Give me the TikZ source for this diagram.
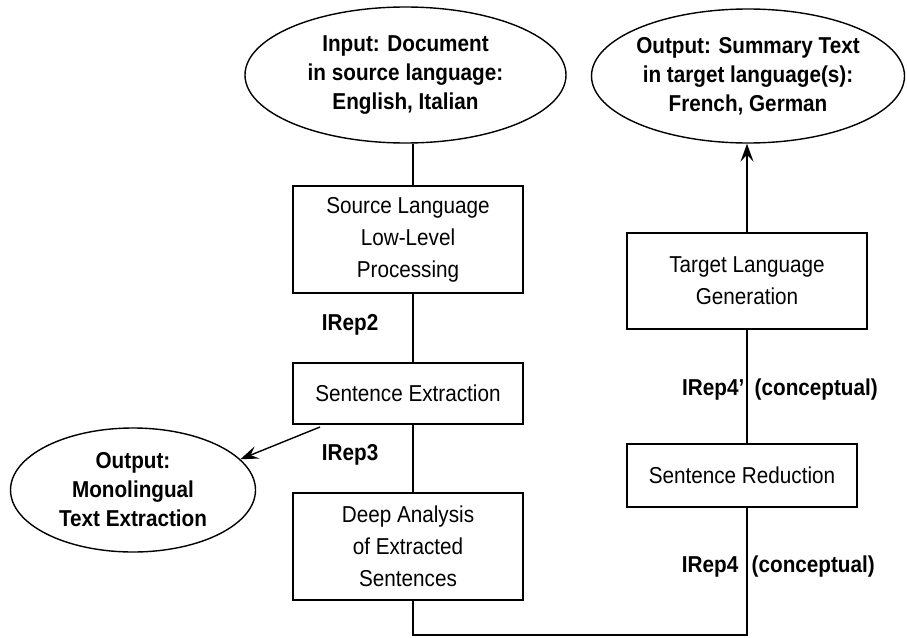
\documentclass[tikz,border=0pt]{standalone}
\usepackage{fontspec}
\setmainfont{Liberation Sans}[FakeStretch=0.9]
\usetikzlibrary{shapes.geometric,arrows.meta}
\begin{document}
\begin{tikzpicture}[x=1pt,y=-1pt, line width=1.4pt,
  txt/.style={font=\fontsize{23}{32}\selectfont, align=center},
  bbox/.style={draw, rectangle, inner sep=0pt, txt},
  oval/.style={draw, ellipse, inner xsep=-12pt, inner ysep=0pt, align=center,
               font=\bfseries\fontsize{23}{29}\selectfont},
  lbl/.style={font=\bfseries\fontsize{23}{28}\selectfont, inner sep=0pt},
  arr/.style={-{Stealth[length=18pt,width=13pt,inset=7pt]}}]
\useasboundingbox (0,0) rectangle (907,637);
\fill[white] (0,0) rectangle (907,637);

% ellipses
\node[oval, minimum width=321pt, minimum height=136pt] (inp) at (405.5,75)
  {Input: Document\\in source language:\\English, Italian};
\node[oval, minimum width=313pt, minimum height=134pt] (out) at (748,76)
  {Output: Summary Text\\in target language(s):\\French, German};
\node[oval, minimum width=245pt, minimum height=124pt] (mono) at (133,490)
  {Output:\\Monolingual\\Text Extraction};

% boxes
\node[bbox, minimum width=230pt, minimum height=107pt] (src) at (408,239.5)
  {Source Language\\Low-Level\\Processing};
\node[bbox, minimum width=230pt, minimum height=61pt] (sent) at (408,393.5)
  {Sentence Extraction};
\node[bbox, minimum width=230pt, minimum height=107pt] (deep) at (408,546.5)
  {Deep Analysis\\of Extracted\\Sentences};
\node[bbox, minimum width=240pt, minimum height=96pt] (tgt) at (747,281)
  {Target Language\\Generation};
\node[bbox, minimum width=230pt, minimum height=63pt] (red) at (742,475.5)
  {Sentence Reduction};

% labels
\node[lbl, anchor=east] (ir2) at (379,325) {IRep2};
\node[lbl, anchor=east] (ir3) at (379,455) {IRep3};
\node[lbl, anchor=east] (ir4p) at (745,390) {IRep4'};
\node[lbl, anchor=west] (c4p) at (754,390) {(conceptual)};
\node[lbl, anchor=east] (ir4) at (739,567) {IRep4};
\node[lbl, anchor=west] (c4) at (751,567) {(conceptual)};

% helper coordinates
\coordinate (lx) at (413,0);
\coordinate (rx) at (747,0);
\coordinate (corner) at (747,635);
\coordinate (ms) at (320,427);

% connectors
\draw (inp.south -| lx) -- (src.north -| lx);
\draw (src.south -| lx) -- (sent.north -| lx);
\draw (sent.south -| lx) -- (deep.north -| lx);
\draw (deep.south -| lx) |- (corner) -- (red.south -| rx);
\draw (red.north -| rx) -- (tgt.south -| rx);
\draw[arr] (tgt.north -| rx) -- (out.south -| rx);
\draw[arr] (ms) -- (mono.16);
\end{tikzpicture}
\end{document}
